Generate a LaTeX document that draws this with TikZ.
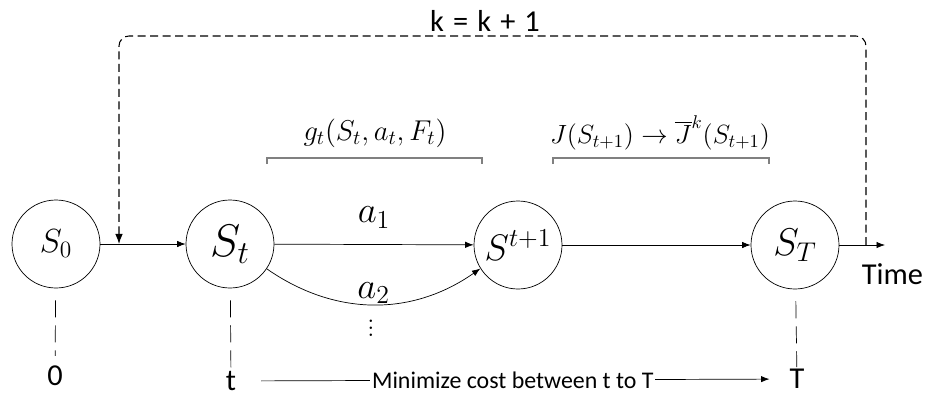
\documentclass[tikz,border=0pt]{standalone}
\usepackage{fix-cm}
\usepackage{fontspec}
\newfontfamily\calfont{Carlito}
\usetikzlibrary{arrows.meta, positioning}

\newcommand{\fsz}[1]{\fontsize{#1}{#1}\selectfont}

\begin{document}
\begin{tikzpicture}[
    x=0.2mm, y=-0.2mm,
    >=Latex,
    state/.style={
        draw,
        circle,
        minimum size=1.76cm,
        inner sep=0pt
    },
    guide/.style={dash pattern=on 3.4mm off 1.6mm},
    feedback/.style={draw=black, line width=0.6pt, dash pattern=on 1.6mm off 0.9mm, rounded corners=2mm},
    bracket/.style={draw=gray, line width=0.6pt},
    timelabel/.style={font=\calfont\LARGE, inner sep=1pt},
    arrow/.style={->}
]
\useasboundingbox (0,0) rectangle (930,400);

\node[state] (S0) at (56,244) {\fsz{19}$S_0$};
\node[state] (St) at (230,244) {\fsz{26}$S_t$};
\node[state] (Snext) at (518,245) {\fsz{21}$S^{t+1}$};
\node[state] (ST) at (795,245) {\fsz{22}$S_T$};

\coordinate (tend) at (885,245);
\coordinate (loopR) at (866,245);
\coordinate (loopL) at (119,244);
\node[font=\calfont\LARGE, below=0.25cm of tend, xshift=0.15cm] (time) {Time};

\draw[arrow] (S0) -- (St);
\draw[arrow] (St) -- node[above=0.2cm] {\fsz{21}$a_1$} (Snext);
\draw[arrow] (St.-34) to[bend right=35] node[above=-3pt] {\fsz{21}$a_2$} (Snext.212);
\node (dots) at (371,323) {\LARGE $\vdots$};
\draw[arrow] (Snext) -- (ST);
\draw[arrow] (ST) -- (tend);

% k = k + 1
\draw[feedback, ->] (loopR) -- ++(0,-209) -| node[pos=0.255, above=-1pt, font=\calfont\LARGE] (kinc)
    {k\hspace{0.3em}=\hspace{0.3em}k\hspace{0.3em}+\hspace{0.3em}1} (loopL);

% costs
\node (gcost) at (375,133) {\fsz{16.3}$g_t(S_t,a_t,F_t)$};
\node (Jcost) at (660,133) {\fsz{15}$J(S_{t+1})\rightarrow\overline{J}^{k}(S_{t+1})$};
\draw[bracket] (267,164) -- (267,158) -- (482,158) -- (482,164);
\draw[bracket] (553,164) -- (553,158) -- (769,158) -- (769,164);

% time axis
\node[timelabel] (lab0) at (55,376) {0};
\node[timelabel] (labt) at (231,381) {t};
\node[timelabel] (labT) at (797,379) {T};
\draw[guide, shorten <=2.4mm, shorten >=1.6mm] (S0) -- (lab0);
\draw[guide, shorten <=2.4mm] (St) -- (labt);
\draw[guide, shorten <=2.4mm] (ST) -- (labT);
\draw[arrow, shorten <=4.6mm, shorten >=3.6mm] (labt) -- node[fill=white, inner sep=1pt, font=\calfont\fsz{13.6}] {Minimize cost between t to T} (labT);

\end{tikzpicture}
\end{document}
